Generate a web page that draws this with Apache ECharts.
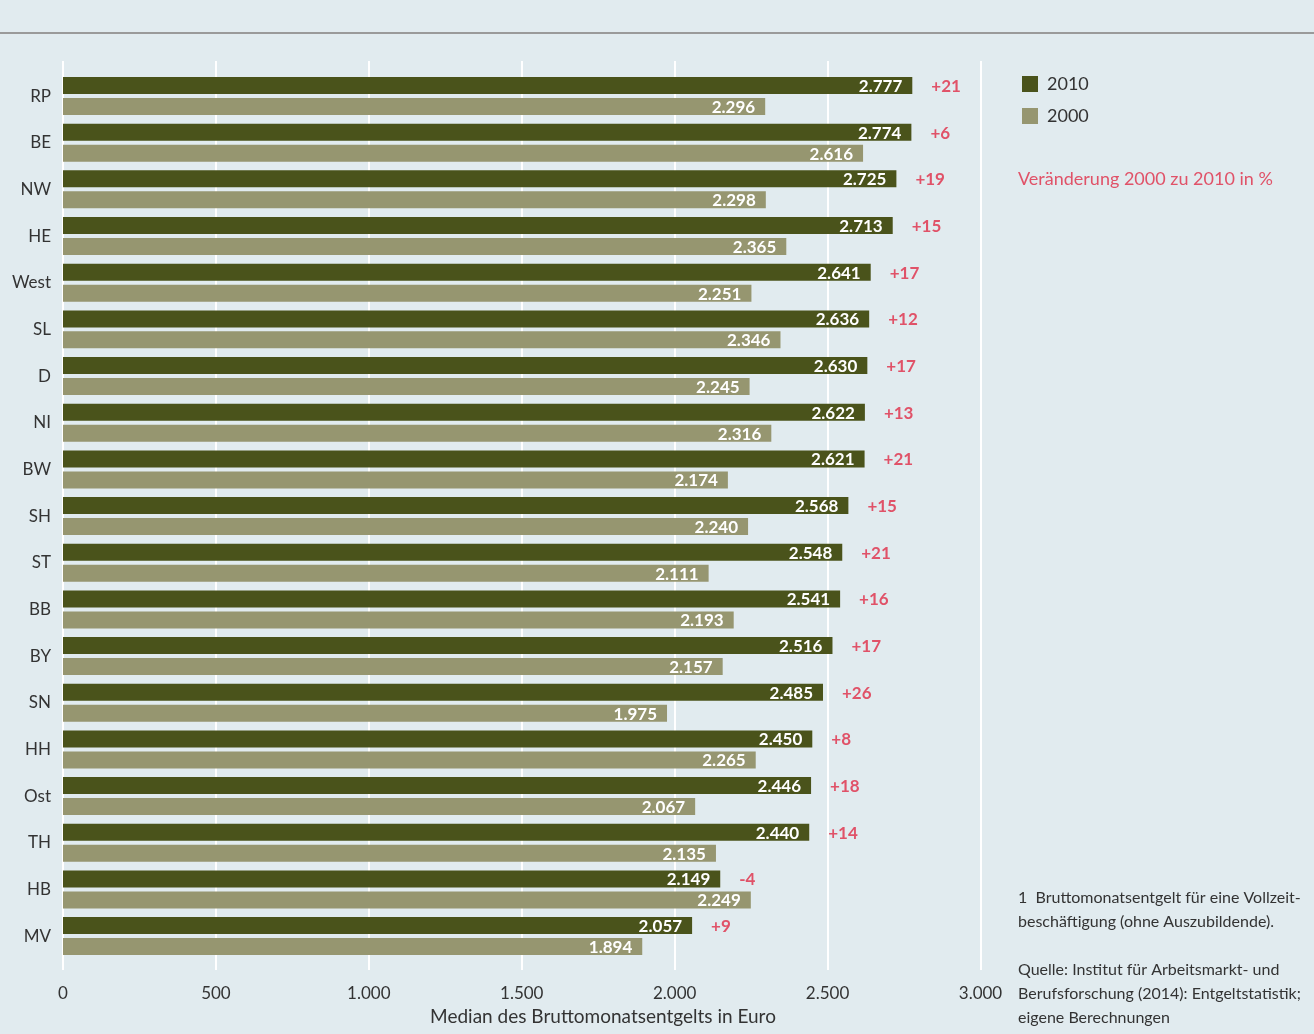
<!DOCTYPE html>
<html>
<head>
<meta charset="utf-8">
<script src="https://cdn.jsdelivr.net/npm/echarts@6/dist/echarts.min.js"></script>
<style>
  html, body { margin: 0; padding: 0; background: #e1ebef; }
  #chart { width: 1314px; height: 1034px; }
</style>
</head>
<body>
<div id="chart"></div>
<script>
// Bundesländer, sorted by 2010 median
const categories = ['RP', 'BE', 'NW', 'HE', 'West', 'SL', 'D', 'NI', 'BW', 'SH', 'ST', 'BB', 'BY', 'SN', 'HH', 'Ost', 'TH', 'HB', 'MV'];
// Median gross monthly earnings (Euro)
const values2010 = [2777, 2774, 2725, 2713, 2641, 2636, 2630, 2622, 2621, 2568, 2548, 2541, 2516, 2485, 2450, 2446, 2440, 2149, 2057];
const values2000 = [2296, 2616, 2298, 2365, 2251, 2346, 2245, 2316, 2174, 2240, 2111, 2193, 2157, 1975, 2265, 2067, 2135, 2249, 1894];
// Change 2000 -> 2010 in percent
const changes = ['+21', '+6', '+19', '+15', '+17', '+12', '+17', '+13', '+21', '+15', '+21', '+16', '+17', '+26', '+8', '+18', '+14', '-4', '+9'];
const xTicks = [0, 500, 1000, 1500, 2000, 2500, 3000];

const FONT = 'Lato, "Noto Sans", sans-serif';
const DARK = '#4a531b';
const LIGHT = '#969670';
const RED = '#e05268';
const TEXT = '#333333';

const fmt = v => {
  const s = String(Math.round(v));
  return s.length > 3 ? s.slice(0, s.length - 3) + '.' + s.slice(-3) : s;
};

const chart = echarts.init(document.getElementById('chart'), null, { renderer: 'canvas' });

const left = 63, width = 917.5;
const bandTop = 72.7, bandHeight = 886.7;

const valueLabel = {
  show: true, position: 'insideRight', distance: 10, offset: [0, 1],
  color: '#ffffff', fontSize: 17, fontWeight: 'bold', fontFamily: FONT,
  formatter: p => fmt(p.value)
};

chart.setOption({
  backgroundColor: '#e1ebef',
  animation: false,
  textStyle: { fontFamily: FONT },
  legend: {
    orient: 'vertical',
    left: 1022, top: 75, padding: 0,
    itemWidth: 16, itemHeight: 16, itemGap: 14,
    icon: 'rect',
    data: ['2010', '2000'],
    textStyle: { fontSize: 18, color: TEXT, fontFamily: FONT, padding: [0, 0, 0, 4] }
  },
  grid: [
    // bars
    { left: left, width: width, top: bandTop, height: bandHeight },
    // gridlines and value axis
    { left: left, width: width, top: 61, height: 909 }
  ],
  xAxis: [
    { gridIndex: 0, type: 'value', min: 0, max: 3000, interval: 500, show: false },
    {
      gridIndex: 1, type: 'value', min: 0, max: 3000, interval: 500,
      axisLine: { show: false }, axisTick: { show: false },
      splitLine: { show: true, lineStyle: { color: '#ffffff', width: 2 } },
      axisLabel: {
        color: TEXT, fontSize: 17, fontFamily: FONT, margin: 15,
        formatter: v => xTicks.includes(v) ? fmt(v) : ''
      }
    }
  ],
  yAxis: [
    {
      gridIndex: 0, type: 'category', data: categories, inverse: true,
      axisLine: { show: false }, axisTick: { show: false }, splitLine: { show: false },
      axisLabel: { color: TEXT, fontSize: 17, fontFamily: FONT, margin: 12 }
    },
    { gridIndex: 1, type: 'category', data: [''], show: false },
    // overlay axis carrying the percentage labels
    { gridIndex: 0, type: 'category', data: categories, inverse: true, show: false }
  ],
  series: [
    {
      name: '2010', type: 'bar', xAxisIndex: 0, yAxisIndex: 0,
      data: values2010, barWidth: 17, barGap: '23.5%',
      itemStyle: { color: DARK },
      label: valueLabel, z: 3
    },
    {
      name: '2000', type: 'bar', xAxisIndex: 0, yAxisIndex: 0,
      data: values2000, barWidth: 17,
      itemStyle: { color: LIGHT },
      label: valueLabel, z: 3
    },
    {
      // percentage change, placed right of the 2010 bar
      name: 'change', type: 'bar', xAxisIndex: 0, yAxisIndex: 2,
      data: values2010, barWidth: 17, barGap: '23.5%',
      itemStyle: { color: 'rgba(0,0,0,0)' },
      label: {
        show: true, position: 'right', distance: 19, offset: [0, 1],
        color: RED, fontSize: 17, fontWeight: 'bold', fontFamily: FONT,
        formatter: p => changes[p.dataIndex]
      },
      silent: true, z: 2
    },
    {
      // spacer so the change labels share the 2010 row position
      name: 'spacer', type: 'bar', xAxisIndex: 0, yAxisIndex: 2,
      data: values2000, barWidth: 17,
      itemStyle: { color: 'rgba(0,0,0,0)' },
      silent: true, z: 1
    }
  ],
  graphic: [
    { type: 'line', shape: { x1: 0, y1: 33, x2: 1314, y2: 33 }, style: { stroke: '#9a9a9a', lineWidth: 2 } },
    { type: 'text', x: 603, y: 1017, style: { text: 'Median des Bruttomonatsentgelts in Euro', fill: TEXT, font: '19px ' + FONT, textAlign: 'center', textVerticalAlign: 'middle' } },
    { type: 'text', left: 1018, top: 170, style: { text: 'Veränderung 2000 zu 2010 in %', fill: RED, font: '18px ' + FONT } },
    { type: 'text', left: 1018, top: 886, style: { text: '1  Bruttomonatsentgelt für eine Vollzeit-\nbeschäftigung (ohne Auszubildende).', fill: TEXT, font: '16px ' + FONT, lineHeight: 24 } },
    { type: 'text', left: 1018, top: 958, style: { text: 'Quelle: Institut für Arbeitsmarkt- und\nBerufsforschung (2014): Entgeltstatistik;\neigene Berechnungen', fill: TEXT, font: '16px ' + FONT, lineHeight: 24 } }
  ]
});
</script>
</body>
</html>
